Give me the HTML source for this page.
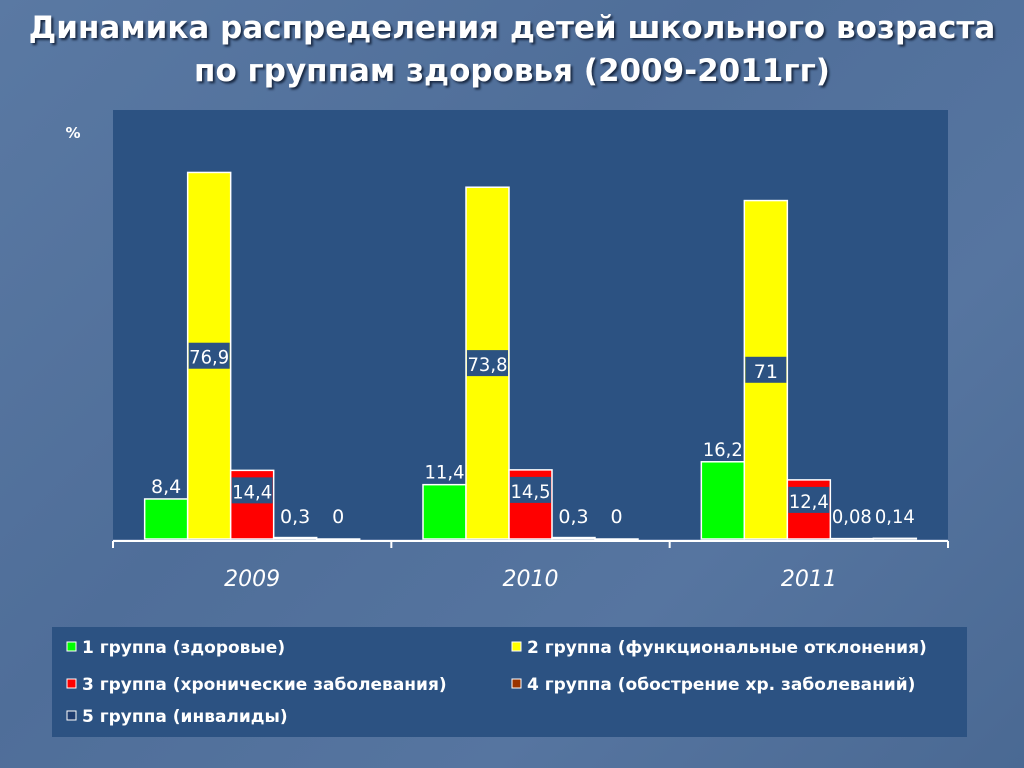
<!DOCTYPE html>
<html><head><meta charset="utf-8"><style>
body{margin:0;width:1024px;height:768px;overflow:hidden;background:#52719c;font-family:"DejaVu Sans","Liberation Sans",sans-serif}
#bg{position:absolute;left:0;top:0;width:1024px;height:768px;background:linear-gradient(135deg,#5a79a3 0%,#4f6e99 40%,#5675a0 70%,#4a6993 100%)}
.title{position:absolute;left:0;top:7px;width:1024px;text-align:center;color:#fff;font-weight:bold;font-size:31px;line-height:43px;text-shadow:2px 2px 2px #1a2a44}
svg{position:absolute;left:0;top:0}
</style></head><body>
<div id="bg"></div>
<div class="title">Динамика распределения детей школьного возраста<br>по группам здоровья (2009-2011гг)</div>
<svg id="c" width="1024" height="768"></svg>
<script>
const categories=["2009","2010","2011"];
const seriesNames=["1 группа (здоровые)","2 группа (функциональные отклонения)","3 группа (хронические заболевания)","4 группа (обострение хр. заболеваний)","5 группа (инвалиды)"];
const g1=[8.4,11.4,16.2];
const g2=[76.9,73.8,71];
const g3=[14.4,14.5,12.4];
const g4=[0.3,0.3,0.08];
const g5=[0,0,0.14];
const valueLabels=[["8,4","11,4","16,2"],["76,9","73,8","71"],["14,4","14,5","12,4"],["0,3","0,3","0,08"],["0","0","0,14"]];
const yMax=90;
const series=[g1,g2,g3,g4,g5];
const colors=["#00ff00","#ffff00","#ff0000","#993300","#1f3c6e"];
const NS="http://www.w3.org/2000/svg";
const svg=document.getElementById('c');
function el(t,a,p){const e=document.createElementNS(NS,t);for(const k in a)e.setAttribute(k,a[k]);(p||svg).appendChild(e);return e;}
const X0=113,X1=948,Y0=539,YT=110;
const y=v=>Y0-(v/yMax)*(Y0-YT);
const cw=(X1-X0)/categories.length, bw=43, pad=(cw-bw*5)/2;
const bx=(ci,si)=>X0+ci*cw+pad+si*bw;
const plot=el('rect',{x:X0,y:YT,width:X1-X0,height:Y0-YT,fill:'#2c5282'});


const pct=el('text',{x:73,y:138,fill:'#fff','font-size':15,'font-weight':'bold','text-anchor':'middle'});pct.textContent='%';


series.forEach((s,si)=>{s.forEach((v,ci)=>{
 const x=bx(ci,si),top=y(v);
 const r=el('rect',{x:x,y:top,width:bw,height:Math.max(Y0-top,0.5),fill:si>=3?'#ffffff':colors[si],stroke:'#fff','stroke-width':1.5});
 
 
 let ly;
 if(si===0)ly=top-14;else if(si===1)ly=(top+Y0)/2;else if(si===2)ly=top+20;else ly=Y0-24;
 const t=valueLabels[si][ci];
 if(si===1||si===2){const b=el('rect',{x:x+1,y:ly-13,width:bw-2,height:26,fill:'#2c5282'});
  
  }
 const tx=el('text',{x:x+bw/2,y:ly+8,fill:'#fff','font-size':19,'text-anchor':'middle','textLength':t.length>3?40:null});
 if(t.length<=3)tx.removeAttribute('textLength');
 tx.setAttribute('lengthAdjust','spacingAndGlyphs');
 tx.textContent=t;
 
 
});});
const ax=el('line',{x1:X0,y1:Y0+2,x2:X1,y2:Y0+2,stroke:'#fff','stroke-width':2});


for(let i=0;i<=categories.length;i++){const tk=el('line',{x1:X0+i*cw,y1:Y0+2,x2:X0+i*cw,y2:Y0+9,stroke:'#fff','stroke-width':2});
 
 }
categories.forEach((c,i)=>{const t=el('text',{x:X0+(i+0.5)*cw,y:586,fill:'#fff','font-size':22,'font-style':'italic','text-anchor':'middle'});t.textContent=c;
 
 });
const lg=el('rect',{x:52,y:627,width:915,height:110,fill:'#2c5282'});


const lpos=[[67,647],[512,647],[67,684],[512,684],[67,716]];
seriesNames.forEach((n,i)=>{const [lx,ly]=lpos[i];
 const m=el('rect',{x:lx,y:ly-5,width:9,height:9,fill:colors[i],stroke:'#fff','stroke-width':1});
 
 
 const t=el('text',{x:lx+15,y:ly+6,fill:'#fff','font-size':17,'font-weight':'bold'});t.textContent=n;
 
 });
</script>
</body></html>
